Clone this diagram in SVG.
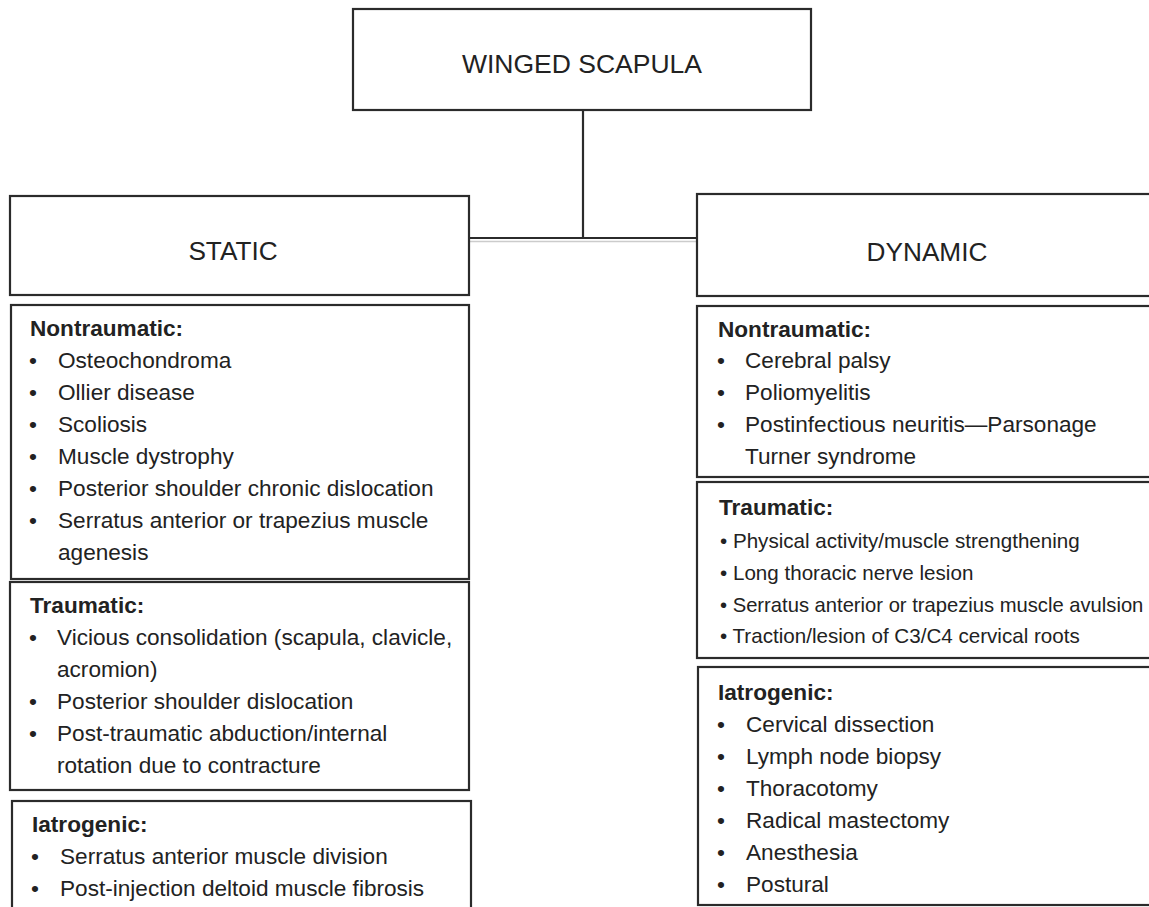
<svg xmlns="http://www.w3.org/2000/svg" width="1149" height="907" viewBox="0 0 1149 907">
<style>
.box{fill:#ffffff;stroke:#2b2b2b;stroke-width:2.2}
.conn{fill:none;stroke:#2b2b2b;stroke-width:2.2}
text{font-family:"Liberation Sans",Arial,sans-serif;fill:#222222}
.title{font-size:26.5px;text-anchor:middle}
.cat{font-size:26.2px;text-anchor:middle}
.h{font-size:22.6px;font-weight:bold}
.t{font-size:22.6px}
.s{font-size:20.6px}
</style>
<rect width="1149" height="907" fill="#ffffff"/>
<g id="connectors">
<line class="conn" x1="583" y1="110" x2="583" y2="238"/>
<line class="conn" x1="469" y1="238" x2="697" y2="238"/>
<line x1="470" y1="241.5" x2="696" y2="241.5" stroke="#cccccc" stroke-width="1.5"/>
</g>
<g id="winged-scapula">
<rect class="box" x="353" y="9" width="458" height="101"/>
<text class="title" x="582" y="73">WINGED SCAPULA</text>
</g>
<g id="static">
<rect class="box" x="10" y="196" width="459" height="99"/>
<text class="cat" x="233" y="260">STATIC</text>
</g>
<g id="dynamic">
<rect class="box" x="697" y="194" width="470" height="102"/>
<text class="cat" x="927" y="261">DYNAMIC</text>
</g>
<g id="static-nontraumatic">
<rect class="box" x="11" y="305" width="458" height="274"/>
<text class="h" x="30" y="336">Nontraumatic:</text>
<text class="t" x="29" y="368">•</text><text class="t" x="58" y="368">Osteochondroma</text>
<text class="t" x="29" y="400">•</text><text class="t" x="58" y="400">Ollier disease</text>
<text class="t" x="29" y="432">•</text><text class="t" x="58" y="432">Scoliosis</text>
<text class="t" x="29" y="464">•</text><text class="t" x="58" y="464">Muscle dystrophy</text>
<text class="t" x="29" y="496">•</text><text class="t" x="58" y="496">Posterior shoulder chronic dislocation</text>
<text class="t" x="29" y="528">•</text><text class="t" x="58" y="528">Serratus anterior or trapezius muscle</text>
<text class="t" x="58" y="560">agenesis</text>
</g>
<g id="static-traumatic">
<rect class="box" x="10" y="582" width="459" height="208"/>
<text class="h" x="30" y="613">Traumatic:</text>
<text class="t" x="29" y="645">•</text><text class="t" x="57" y="645">Vicious consolidation (scapula, clavicle,</text>
<text class="t" x="57" y="677">acromion)</text>
<text class="t" x="29" y="709">•</text><text class="t" x="57" y="709">Posterior shoulder dislocation</text>
<text class="t" x="29" y="741">•</text><text class="t" x="57" y="741">Post-traumatic abduction/internal</text>
<text class="t" x="57" y="773">rotation due to contracture</text>
</g>
<g id="static-iatrogenic">
<rect class="box" x="12" y="801" width="459" height="130"/>
<text class="h" x="32" y="832">Iatrogenic:</text>
<text class="t" x="31" y="864">•</text><text class="t" x="60" y="864">Serratus anterior muscle division</text>
<text class="t" x="31" y="896">•</text><text class="t" x="60" y="896">Post-injection deltoid muscle fibrosis</text>
</g>
<g id="dynamic-nontraumatic">
<rect class="box" x="697" y="306" width="470" height="171"/>
<text class="h" x="718" y="337">Nontraumatic:</text>
<text class="t" x="717" y="368">•</text><text class="t" x="745" y="368">Cerebral palsy</text>
<text class="t" x="717" y="400">•</text><text class="t" x="745" y="400">Poliomyelitis</text>
<text class="t" x="717" y="432">•</text><text class="t" x="745" y="432">Postinfectious neuritis—Parsonage</text>
<text class="t" x="745" y="464">Turner syndrome</text>
</g>
<g id="dynamic-traumatic">
<rect class="box" x="697" y="482" width="470" height="176"/>
<text class="h" x="719" y="515">Traumatic:</text>
<text class="s" x="720" y="548">• Physical activity/muscle strengthening</text>
<text class="s" x="720" y="580">• Long thoracic nerve lesion</text>
<text class="s" x="720" y="612" style="font-size:20.2px">• Serratus anterior or trapezius muscle avulsion</text>
<text class="s" x="720" y="643">• Traction/lesion of C3/C4 cervical roots</text>
</g>
<g id="dynamic-iatrogenic">
<rect class="box" x="698" y="667" width="470" height="238"/>
<text class="h" x="718" y="700">Iatrogenic:</text>
<text class="t" x="717" y="732">•</text><text class="t" x="746" y="732">Cervical dissection</text>
<text class="t" x="717" y="764">•</text><text class="t" x="746" y="764">Lymph node biopsy</text>
<text class="t" x="717" y="796">•</text><text class="t" x="746" y="796">Thoracotomy</text>
<text class="t" x="717" y="828">•</text><text class="t" x="746" y="828">Radical mastectomy</text>
<text class="t" x="717" y="860">•</text><text class="t" x="746" y="860">Anesthesia</text>
<text class="t" x="717" y="892">•</text><text class="t" x="746" y="892">Postural</text>
</g>
</svg>
